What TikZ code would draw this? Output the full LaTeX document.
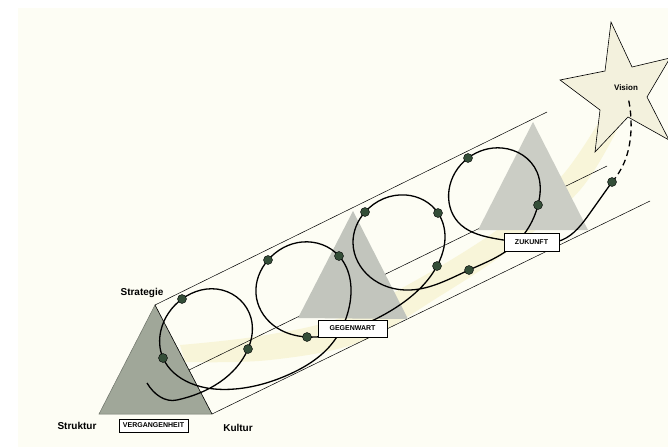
\documentclass[tikz,border=0pt]{standalone}
\usepackage{fontspec}
\setmainfont{Liberation Sans}
\usetikzlibrary{hobby}
\definecolor{bgcream}{RGB}{253,253,244}
\definecolor{bandyel}{RGB}{247,243,208}
\definecolor{triV}{RGB}{160,167,153}
\definecolor{triVedge}{RGB}{110,115,105}
\definecolor{triG}{RGB}{194,197,189}
\definecolor{triZ}{RGB}{203,205,197}
\definecolor{starfill}{RGB}{243,241,221}
\definecolor{dotgreen}{RGB}{52,78,56}
\begin{document}
\begin{tikzpicture}[x=1pt,y=-1pt,
  prism/.style={draw=black,line width=0.5pt},
  coil/.style={draw=black,line width=1.3pt},
  dotmark/.style={circle,draw=black,line width=0.4pt,fill=dotgreen,minimum size=9pt,inner sep=0pt},
  tag/.style={draw=black,line width=0.5pt,fill=white,inner sep=0pt,font=\fontsize{7}{8}\selectfont\bfseries},
  lbl/.style={font=\fontsize{10}{12}\selectfont\bfseries,inner sep=0pt}]
\useasboundingbox (0,0) rectangle (668,447);
\fill[white] (0,0) rectangle (668,447);
\fill[bgcream] (18,8) rectangle (668,447);
% yellow band
\fill[bandyel,opacity=0.75] plot[smooth,tension=0.6] coordinates {(180,345) (260,336) (340,318) (420,278) (500,228) (560,178) (600,120)}
  -- plot[smooth,tension=0.6] coordinates {(618,128) (580,190) (515,246) (440,296) (360,342) (270,360) (185,362)} -- cycle;
% prism lines
\coordinate (apexV) at (155,305);
\coordinate (blV) at (99,414);
\coordinate (brV) at (212,414);
\coordinate (midV) at (189,370);
\coordinate (topEnd) at (547,112);
\coordinate (midEnd) at (607,166);
\coordinate (botEnd) at (650,201);
\draw[prism] (apexV) -- (topEnd);
\draw[prism] (midV) -- (midEnd);
\draw[prism] (brV) -- (botEnd);
% triangles
\fill[triG] (353,211) -- (298,318) -- (408,319) -- cycle;
\fill[triZ] (533,122) -- (478,230) -- (588,230) -- cycle;
\fill[triV,draw=triVedge,line width=0.5pt] (apexV) -- (blV) -- (brV) -- cycle;
\draw[prism] (apexV) -- (brV);
% star
\filldraw[fill=starfill,draw=black,line width=0.6pt]
  (611,22) -- (632,67) -- (670,58) -- (647,97) -- (669,140) -- (628,117) -- (595,152) -- (600,110) -- (560,80) -- (605,71) -- cycle;
% dot positions
\coordinate (pa) at (248,349);
\coordinate (pb) at (182,299);
\coordinate (pc) at (163,358);
\coordinate (pd) at (339,256);
\coordinate (pe) at (268,260);
\coordinate (pf) at (307,337);
\coordinate (pg) at (437,266);
\coordinate (ph) at (438,213);
\coordinate (pi) at (365,212);
\coordinate (pj) at (469,270);
\coordinate (pk) at (538,205);
\coordinate (pl) at (468,158);
\coordinate (pm) at (612,182);
\coordinate (vis) at (628,97);
% coil
\draw[coil,use Hobby shortcut] (147,383) .. (177,400) .. (220,382) .. (pa) .. (251,318) .. (222,290) .. (pb) .. (161,330) .. (pc) .. (190,383) .. (235,389) .. (290,374) .. (330,346) .. (349,308) .. (pd) .. (302,242) .. (pe) .. (256,294) .. (273,325) .. (pf) .. (346,331) .. (392,310) .. (pg) .. (445,237) .. (ph) .. (406,195) .. (pi) .. (353,243) .. (370,277) .. (410,290) .. (pj) .. (505,252) .. (527,230) .. (pk) .. (537,172) .. (502,148) .. (pl) .. (449,190) .. (458,222) .. (492,238) .. (532,243) .. (562,240) .. (590,213) .. (pm);
\draw[coil,dash pattern=on 6pt off 4pt,use Hobby shortcut] (pm) .. (624,163) .. (631,130) .. (vis);
% tags
\node[tag,minimum width=69pt,minimum height=13pt] (vergangenheit) at (153.5,425.5) {VERGANGENHEIT};
\node[tag,minimum width=69pt,minimum height=17pt] (gegenwart) at (352.5,328.5) {GEGENWART};
\node[tag,minimum width=55pt,minimum height=18pt] (zukunft) at (531.5,242) {ZUKUNFT};
% dots
\foreach \p in {pa,pb,pc,pd,pe,pf,pg,ph,pi,pj,pk,pl,pm} {\node[dotmark] (d\p) at (\p) {};}
% texts
\node[lbl] (strategie) at (142,293) {Strategie};
\node[lbl] (struktur) at (77,426) {Struktur};
\node[lbl] (kultur) at (238,428) {Kultur};
\node[font=\fontsize{8}{10}\selectfont\bfseries,inner sep=0pt] (vision) at (626,88) {Vision};
\end{tikzpicture}
\end{document}
